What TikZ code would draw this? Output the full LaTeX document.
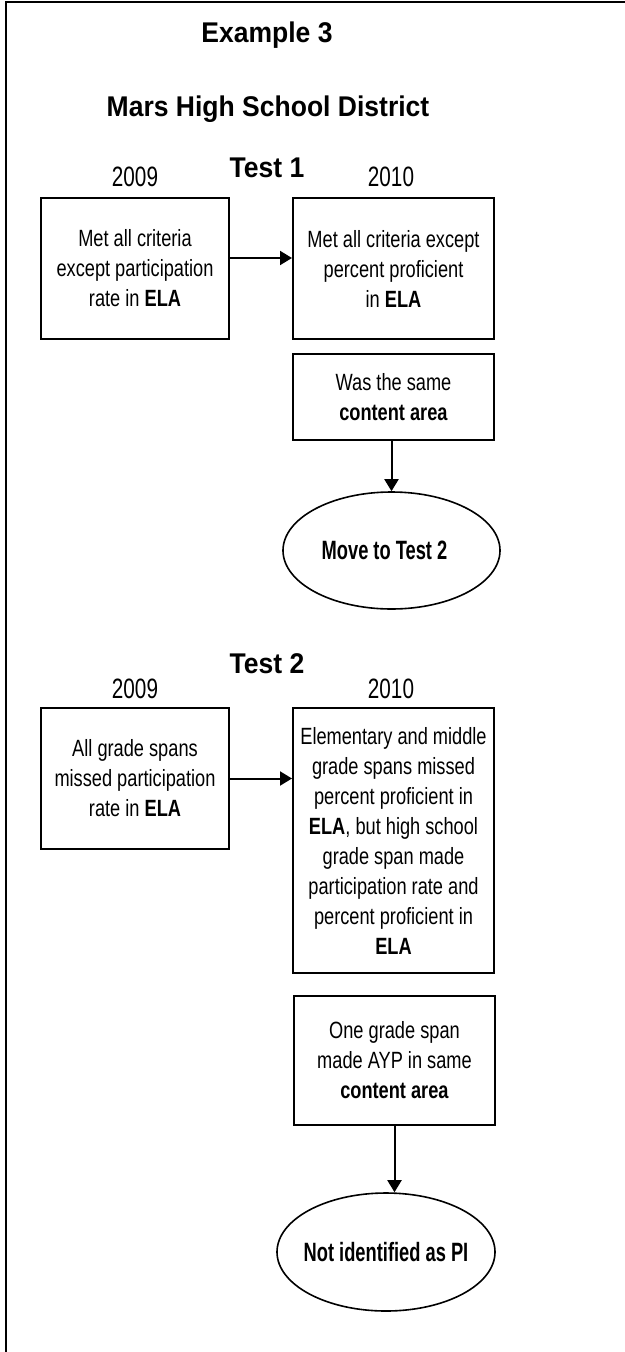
\documentclass[tikz,border=0pt]{standalone}
\usepackage{fontspec}
\setmainfont{Liberation Sans}
\newfontfamily\headfont[FakeStretch=0.93]{Liberation Sans}
\newfontfamily\yearfont[FakeStretch=0.74]{Liberation Sans}
\newfontfamily\boxfont[FakeStretch=0.775]{Liberation Sans}
\newfontfamily\ellfont[FakeStretch=0.69]{Liberation Sans}
\usetikzlibrary{arrows.meta,shapes.geometric}

\begin{document}
\begin{tikzpicture}[x=1bp,y=-1bp,
 head/.style={font=\headfont\bfseries\fontsize{28.5bp}{34bp}\selectfont, anchor=base, inner sep=0pt},
 year/.style={font=\yearfont\fontsize{28bp}{34bp}\selectfont, anchor=base, inner sep=0pt},
 stepbox/.style={draw, line width=2bp, inner sep=0pt, align=center, font=\boxfont\fontsize{23.5bp}{30bp}\selectfont},
 ellip/.style={draw, ellipse, line width=1.6bp, inner sep=0pt, font=\ellfont\bfseries\fontsize{26.5bp}{30bp}\selectfont},
 arr/.style={line width=2bp, -{Triangle[length=12bp,width=14bp]}},
 frame/.style={line width=2bp}]
\useasboundingbox (0,0) rectangle (625,1352);
\fill[white] (0,0) rectangle (625,1352);

% frame (top and left edges)
\draw[frame] (626,2.5) -- (6,2.5) -- (6,1353);

% titles
\node[head] (title) at (267,43) {Example 3};
\node[head] (district) at (268,117) {Mars High School District};

% Test 1
\node[head] (t1) at (267,178) {Test 1};
\node[year] (y1a) at (135,187) {2009};
\node[year] (y1b) at (391,187) {2010};

\node[stepbox, minimum width=188bp, minimum height=141bp] (a1) at (135,268.5)
  {Met all criteria\\except participation\\rate in \textbf{ELA}};
\node[stepbox, minimum width=201bp, minimum height=141bp] (b1) at (393.5,268.5)
  {Met all criteria except\\percent proficient\\in \textbf{ELA}};
\node[stepbox, minimum width=201bp, minimum height=86bp] (c1) at (393.5,397)
  {Was the same\\\textbf{content area}};
\node[ellip, minimum width=217bp, minimum height=117bp] (e1) at (391.5,550.5)
  {\makebox[0pt]{Move to Test 2\hspace*{14bp}}};

\draw[arr] ([yshift=10.5bp]a1.east) -- ([yshift=10.5bp]b1.west);
\draw[arr] (e1.north |- c1.south) -- (e1.north);

% Test 2
\node[head] (t2) at (267,673) {Test 2};
\node[year] (y2a) at (135,698) {2009};
\node[year] (y2b) at (391,698) {2010};

\node[stepbox, minimum width=188bp, minimum height=141bp] (a2) at (135,778.5)
  {All grade spans\\missed participation\\rate in \textbf{ELA}};
\node[stepbox, minimum width=201bp, minimum height=265bp] (b2) at (393.5,840.5)
  {Elementary and middle\\grade spans missed\\percent proficient in\\\textbf{ELA}, but high school\\grade span made\\participation rate and\\percent proficient in\\\textbf{ELA}};
\node[stepbox, minimum width=201bp, minimum height=129bp] (c2) at (394.5,1060.5)
  {One grade span\\made AYP in same\\\textbf{content area}};
\node[ellip, minimum width=218bp, minimum height=118bp] (e2) at (386,1252)
  {\makebox[0pt]{Not identified as PI}};

\draw[arr] (a2.east) -- (a2.east -| b2.west);
\draw[arr] (c2.south) -- (c2.south |- e2.north);
\end{tikzpicture}
\end{document}
